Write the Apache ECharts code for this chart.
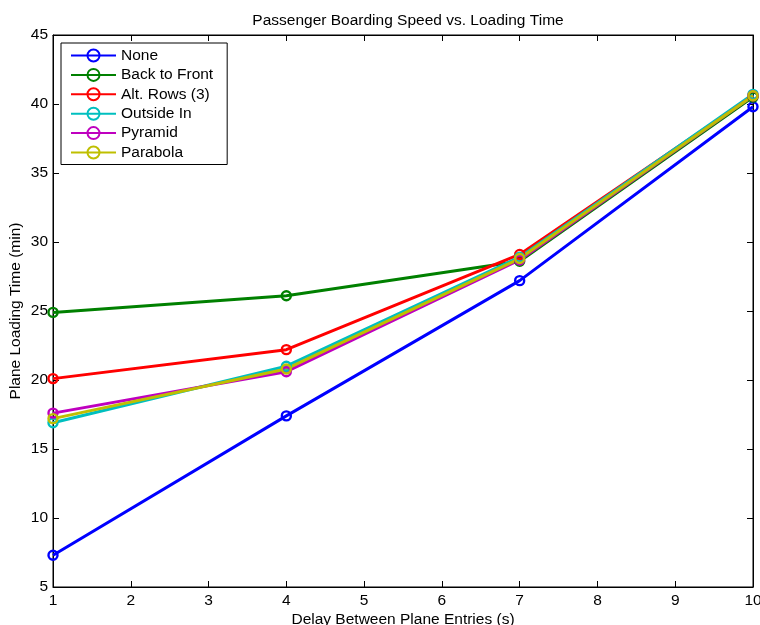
<!DOCTYPE html>
<html>
<head>
<meta charset="utf-8">
<script src="https://cdn.jsdelivr.net/npm/echarts@6/dist/echarts.min.js"></script>
<style>html,body{margin:0;padding:0;background:#fff}#c{width:760px;height:625px}</style>
</head>
<body>
<div id="c"></div>
<script>
const delays = [1, 4, 7, 10];
const seriesNames = ['None', 'Back to Front', 'Alt. Rows (3)', 'Outside In', 'Pyramid', 'Parabola'];
const noneVals = [7.3, 17.4, 27.2, 39.8];
const backToFrontVals = [24.9, 26.1, 28.6, 40.5];
const altRowsVals = [20.1, 22.2, 29.1, 40.6];
const outsideInVals = [16.9, 21.0, 28.9, 40.7];
const pyramidVals = [17.6, 20.6, 28.7, 40.6];
const parabolaVals = [17.2, 20.8, 28.8, 40.6];
const colors = ['#0000ff', '#008000', '#ff0000', '#00bfbf', '#bf00bf', '#bfbf00'];
const xTicks = [1,2,3,4,5,6,7,8,9,10];
const yTicks = [5,10,15,20,25,30,35,40,45];

const allVals = [noneVals, backToFrontVals, altRowsVals, outsideInVals, pyramidVals, parabolaVals];
const font = 'Liberation Sans, Arial, Helvetica, sans-serif';

const chart = echarts.init(document.getElementById('c'), null, {renderer: 'canvas'});
const series = seriesNames.map((n, i) => ({
  name: n,
  type: 'line',
  data: delays.map((d, j) => [d, allVals[i][j]]),
  symbol: 'circle',
  symbolSize: 9,
  color: colors[i],
  lineStyle: {width: 3, color: colors[i]},
  itemStyle: {color: 'rgba(0,0,0,0)', borderColor: colors[i], borderWidth: 2.4},
  emphasis: {disabled: true},
  animation: false
}));

const baseAxis = {
  type: 'value',
  axisLine: {show: true, lineStyle: {color: '#000', width: 1}},
  axisTick: {show: true, inside: true, length: 6, lineStyle: {color: '#000'}},
  splitLine: {show: false}
};

chart.setOption({
  backgroundColor: '#fff',
  animation: false,
  title: {
    text: 'Passenger Boarding Speed vs. Loading Time',
    left: 403,
    textAlign: 'center',
    top: 8,
    textStyle: {fontFamily: font, fontSize: 15.5, fontWeight: 'normal', color: '#000'}
  },
  legend: {
    orient: 'vertical',
    left: 61,
    top: 43,
    padding: [4.5, 14, 4, 9],
    itemWidth: 45,
    itemHeight: 15,
    itemGap: 3.4,
    backgroundColor: '#fff',
    borderColor: '#000',
    borderWidth: 1,
    borderRadius: 0,
    textStyle: {fontFamily: font, fontSize: 15.5, lineHeight: 15, color: '#000'},
    data: seriesNames,
    selectedMode: false
  },
  grid: {left: 53, right: 7, top: 35, bottom: 38, show: true, borderColor: '#000', borderWidth: 1,
    containLabel: false, outerBoundsMode: 'none'},
  xAxis: [
    Object.assign({}, baseAxis, {
      min: 1, max: 10, interval: 1, position: 'bottom',
      name: 'Delay Between Plane Entries (s)', nameLocation: 'middle', nameGap: 25, nameMoveOverlap: false,
      nameTextStyle: {fontFamily: font, fontSize: 15.5, color: '#000'},
      axisLabel: {fontFamily: font, fontSize: 15.5, color: '#000', margin: 6,
        formatter: v => xTicks.includes(v) ? String(v) : ''}
    }),
    Object.assign({}, baseAxis, {
      min: 1, max: 10, interval: 1, position: 'top', axisLabel: {show: false}
    })
  ],
  yAxis: [
    Object.assign({}, baseAxis, {
      min: 5, max: 45, interval: 5, position: 'left',
      name: 'Plane Loading Time (min)', nameLocation: 'middle', nameGap: 29, nameMoveOverlap: false,
      nameTextStyle: {fontFamily: font, fontSize: 15.5, color: '#000'},
      axisLabel: {fontFamily: font, fontSize: 15.5, color: '#000', margin: 5,
        formatter: v => yTicks.includes(v) ? String(v) : ''}
    }),
    Object.assign({}, baseAxis, {
      min: 5, max: 45, interval: 5, position: 'right', axisLabel: {show: false}
    })
  ],
  series: series
});
</script>
</body>
</html>
